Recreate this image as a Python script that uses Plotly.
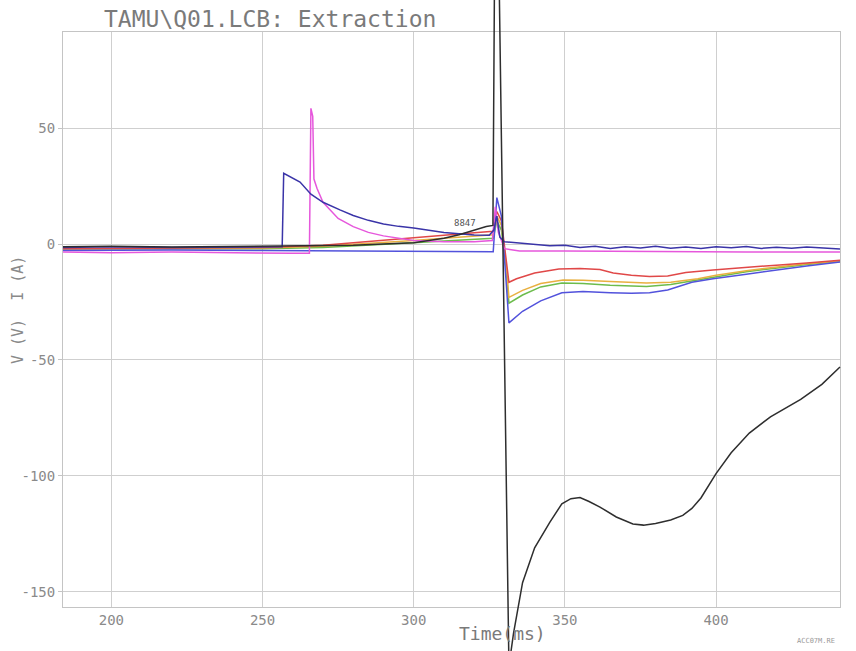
import plotly.graph_objects as go

# ---------------- data ----------------
black_t = [184, 200, 220, 240, 260, 280, 300, 310, 315, 320, 324, 326.2, 326.7, 328.3, 331.5, 333, 336, 340, 345, 349,
           352, 355, 358, 361.6, 367, 372.5, 376, 380, 385, 389, 392, 395, 400, 405, 411, 418, 428, 435, 441]
black_v = [-1.2, -1.0, -1.3, -1.0, -0.8, -0.5, 0.5, 2.5, 4.0, 6.0, 7.5, 8.0, 110, 110, -182, -168, -146, -131, -120, -112,
           -109.8, -109.3, -111, -113.4, -117.7, -120.7, -121.2, -120.5, -119, -117, -114, -109.5, -99, -90, -81.5, -74.5, -67, -60.5, -53]

navy_t = [184, 200, 220, 240, 256.5, 257, 262.4, 266, 270, 275.6, 280, 285, 290, 295, 300, 310, 320, 325, 326.5, 327.5, 328.5, 330,
          336, 340, 345, 350, 355, 360, 365, 370, 375, 380, 385, 390, 395, 400, 405, 410, 415, 420, 425, 430, 435, 441]
navy_v = [-1.5, -1.2, -1.5, -1.3, -1.2, 30.5, 26.7, 21.5, 18.0, 14.7, 12.3, 10.2, 8.6, 7.6, 6.9, 5.0, 3.9, 3.8, 6.0, 12.0, 3.0, 1.0,
          0.4, -0.3, -0.8, -0.5, -1.5, -1.0, -1.9, -1.2, -1.7, -1.0, -1.8, -1.3, -1.9, -1.2, -1.6, -1.1, -1.9, -1.4, -1.8, -1.3, -1.7, -2.2]

magenta_t = [184, 200, 220, 240, 260, 265.5, 266, 266.6, 267, 268, 270, 275, 280, 285, 290, 300, 310, 320, 326,
             327, 328, 330, 335, 350, 370, 390, 410, 441]
magenta_v = [-3.5, -3.8, -3.5, -3.9, -4.0, -4.0, 58.5, 55, 28, 24, 18, 11, 7.5, 5.0, 3.5, 1.5, 1.0, 1.0, 1.5,
             16, 5, -2, -3, -3, -3.2, -3.2, -3.5, -3.5]

red_t = [184, 250, 270, 290, 300, 310, 320, 326.3, 327.5, 329, 330.5, 331.5, 334, 340, 348, 355, 361.6, 366, 372, 378,
         384, 390, 399, 410, 421, 430, 441]
red_v = [-2.0, -1.5, -0.5, 1.5, 2.5, 3.5, 4.8, 5.5, 14, 10, -5, -16.5, -15, -12.5, -10.8, -10.6, -11, -12.5, -13.5, -14,
         -13.8, -12.3, -11.2, -10, -9, -8.2, -7.0]

orange_t = [184, 250, 270, 290, 300, 310, 320, 326.3, 327.5, 329, 330.5, 331.5, 336, 342, 349.4, 356, 365, 377, 385,
            394, 400, 410, 421, 430, 441]
orange_v = [-2.0, -1.7, -1.0, 0.5, 1.5, 2.5, 3.5, 4.0, 12, 8, -8, -23, -20, -17, -15.5, -15.6, -16.2, -16.8, -16.5,
            -15, -13.5, -11.5, -9.8, -8.5, -7.3]

green_t = [184, 250, 270, 290, 300, 310, 320, 326.3, 327.5, 329, 330.5, 331.5, 336, 342, 349, 356, 365, 377, 385,
           394, 400, 410, 421, 430, 441]
green_v = [-2.2, -2.0, -1.5, -0.3, 0.5, 1.3, 2.0, 2.5, 10, 6, -10, -25.5, -22, -18.5, -16.8, -17, -17.8, -18.3, -17.5,
           -15.5, -14, -12, -10.2, -8.8, -7.5]

violet_t = [184, 220, 250, 290, 326.3, 327.5, 329, 330.5, 331.5, 336, 342, 349, 356, 365, 372, 378, 384, 392, 399,
            410, 421, 430, 441]
violet_v = [-2.8, -2.6, -2.8, -3.0, -3.3, 20, 12, -15, -34, -29, -24.5, -21, -20.5, -21, -21.2, -21, -19.8, -16.5, -15,
            -13, -11, -9.5, -7.8]

x_ticks = [200, 250, 300, 350, 400]
y_ticks = [50, 0, -50, -100, -150]

# ---------------- layout geometry ----------------
W, H = 856, 651
L, R, T, B = 63, 840, 32, 607           # plot frame in pixels
x_rng = [184, 441]
y_rng = [-156.5, 91.4]

sx = (R - L) / (x_rng[1] - x_rng[0])
sy = (B - T) / (y_rng[1] - y_rng[0])
x2_rng = [x_rng[0] - L / sx, x_rng[1] + (W - R) / sx]
y2_rng = [y_rng[0] - (H - B) / sy, y_rng[1] + T / sy]

grid = "#cfcfcf"
txt = "#8a8a8a"
font_mono = "DejaVu Sans Mono"

fig = go.Figure()

def add(t, v, color, axes=("x", "y"), width=1.5):
    fig.add_trace(go.Scatter(x=t, y=v, mode="lines", line=dict(color=color, width=width),
                             xaxis=axes[0], yaxis=axes[1], showlegend=False, hoverinfo="skip"))

add(green_t, green_v, "#6cbc4c")
add(orange_t, orange_v, "#e8b040")
add(red_t, red_v, "#e04848")
add(violet_t, violet_v, "#5252dc")
add(magenta_t, magenta_v, "#e657dc")
add(navy_t, navy_v, "#3a34a8")
add(black_t, black_v, "#2e2e2e", axes=("x2", "y2"), width=1.5)

fig.update_layout(
    width=W, height=H,
    margin=dict(l=0, r=0, t=0, b=0),
    paper_bgcolor="white", plot_bgcolor="rgba(0,0,0,0)",
    xaxis=dict(domain=[L / W, R / W], range=x_rng, tickvals=x_ticks, ticktext=[str(v) for v in x_ticks],
               showgrid=True, gridcolor=grid, gridwidth=1, zeroline=False,
               showline=True, mirror=True, linecolor="#c4c4c4", linewidth=1,
               tickfont=dict(family=font_mono, size=14, color=txt), ticks=""),
    yaxis=dict(domain=[(H - B) / H, (H - T) / H], range=y_rng, tickvals=y_ticks,
               ticktext=[str(v) for v in y_ticks],
               showgrid=True, gridcolor=grid, gridwidth=1, zeroline=False,
               showline=True, mirror=True, linecolor="#c4c4c4", linewidth=1,
               tickfont=dict(family=font_mono, size=14, color=txt), ticks="outside",
               ticklen=4, tickcolor="#c4c4c4"),
    xaxis2=dict(domain=[0, 1], range=x2_rng, visible=False, anchor="y2"),
    yaxis2=dict(domain=[0, 1], range=y2_rng, visible=False, anchor="x2"),
)

fig.add_annotation(text="TAMU\\Q01.LCB: Extraction", xref="paper", yref="paper",
                   x=102 / W, y=1 - 19 / H, xanchor="left", yanchor="middle", showarrow=False,
                   font=dict(family=font_mono, size=23, color="#7a7a7a"))
fig.add_annotation(text="Time(ms)", xref="paper", yref="paper",
                   x=502 / W, y=1 - 633 / H, xanchor="center", yanchor="middle", showarrow=False,
                   font=dict(family=font_mono, size=18, color="#7a7a7a"))
fig.add_annotation(text="V (V)  I (A)", xref="paper", yref="paper", textangle=-90,
                   x=18 / W, y=1 - 310 / H, xanchor="center", yanchor="middle", showarrow=False,
                   font=dict(family=font_mono, size=15, color="#8a8a8a"))
fig.add_annotation(text="8847", x=317, y=9, xref="x", yref="y", showarrow=False,
                   font=dict(family=font_mono, size=9, color="#555555"))
fig.add_annotation(text="ACC07M.RE", xref="paper", yref="paper",
                   x=816 / W, y=1 - 641 / H, xanchor="center", yanchor="middle", showarrow=False,
                   font=dict(family=font_mono, size=7, color="#9a9a9a"))

fig.write_html("out.html", config={"displayModeBar": False},
               post_script="document.body.style.margin='0';")
